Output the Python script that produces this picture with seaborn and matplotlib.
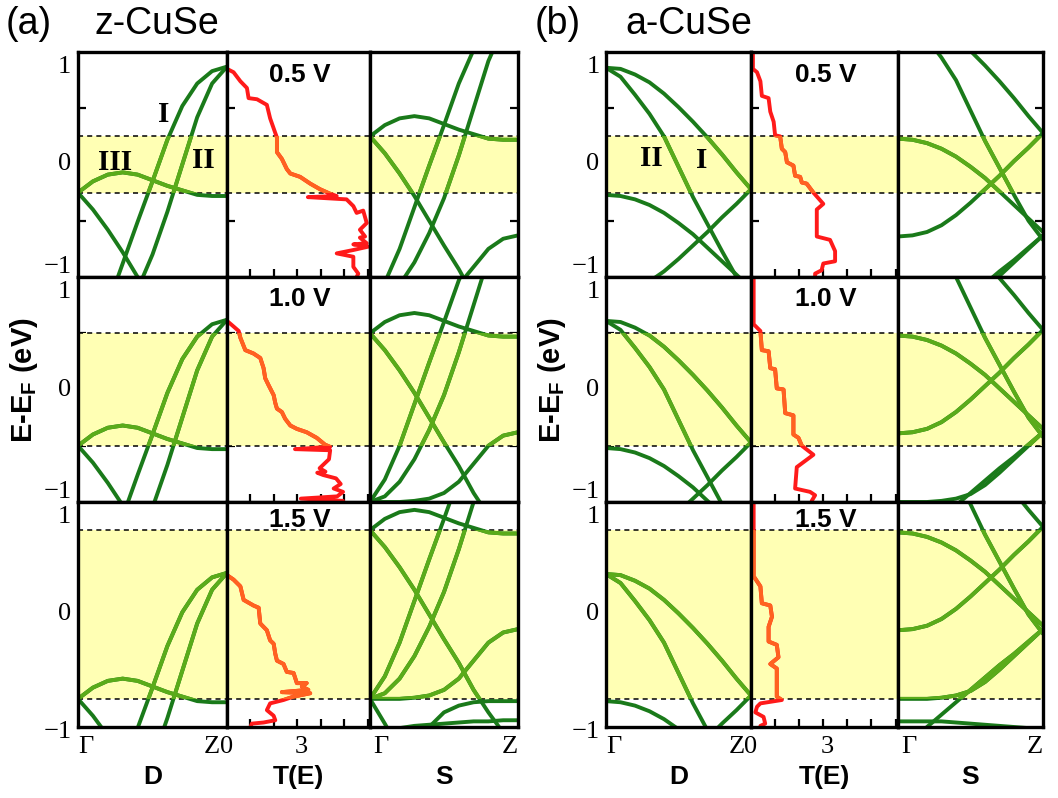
import matplotlib
matplotlib.use("Agg")
import matplotlib.pyplot as plt
import seaborn as sns
import pandas as pd
from matplotlib.patches import Rectangle

# ---------------- data ----------------
K_POINTS = [0.0, 0.1, 0.2, 0.3, 0.4, 0.5, 0.6, 0.7, 0.8, 0.9, 1.0]
BIAS = [0.5, 1.0, 1.5]
BIAS_LABELS = ["0.5 V", "1.0 V", "1.5 V"]

# z-CuSe bands (energy at zero bias); drain = E - V/2, source = E + V/2
zB1 = [0.00, 0.10, 0.16, 0.18, 0.16, 0.11, 0.06, 0.02, -0.02, -0.03, -0.03]
zB2 = [0.00, -0.15, -0.33, -0.53, -0.75, -0.97, -1.18, -1.42, -1.62, -1.80, -1.90]
zB3 = [-1.50, -1.30, -1.00, -0.63, -0.26, 0.10, 0.47, 0.77, 0.97, 1.08, 1.12]
zB4 = [-1.50, -1.45, -1.32, -1.12, -0.86, -0.55, -0.17, 0.25, 0.67, 0.97, 1.12]
zB5 = [-1.50, -1.50, -1.50, -1.49, -1.47, -1.42, -1.32, -1.16, -1.00, -0.91, -0.88]
zB6 = [-1.50, -1.72, -1.95, -2.18, -2.40, -2.60, -2.80, -3.00, -3.20, -3.40, -3.60]
zB7 = [-2.60, -2.40, -2.20, -2.00, -1.75, -1.62, -1.56, -1.53, -1.52, -1.52, -1.52]
zB8 = [-1.85, -1.80, -1.76, -1.74, -1.73, -1.72, -1.71, -1.70, -1.70, -1.69, -1.69]

# a-CuSe bands
aB1 = [1.11, 1.10, 1.05, 0.98, 0.88, 0.76, 0.63, 0.49, 0.34, 0.18, 0.03]
aB2 = [1.11, 1.03, 0.87, 0.70, 0.50, 0.23, -0.04, -0.28, -0.52, -0.75, -0.92]
aB3 = [-0.02, -0.03, -0.06, -0.11, -0.18, -0.27, -0.37, -0.49, -0.61, -0.73, -0.85]
aB4 = [-0.89, -0.88, -0.85, -0.79, -0.70, -0.59, -0.47, -0.35, -0.22, -0.10, 0.03]
aB5 = [-1.50, -1.50, -1.50, -1.49, -1.47, -1.43, -1.35, -1.24, -1.12, -1.00, -0.88]
aB6 = [-2.02, -1.88, -1.75, -1.64, -1.53, -1.42, -1.31, -1.20, -1.10, -0.99, -0.88]
aB7 = [-1.70, -1.70, -1.70, -1.70, -1.71, -1.72, -1.73, -1.74, -1.75, -1.76, -1.76]

# transmission T(E) curves
zT05_T = [0, 0, 0.28, 0.57, 0.85, 0.92, 1.28, 1.7, 1.84, 2.06, 2.13, 2.13, 2.34, 2.55, 2.7, 3.12,
          3.55, 3.97, 4.4, 4.68, 3.45, 5.1, 5.39, 5.53, 5.81, 5.96, 5.67, 5.89, 5.67, 5.96, 5.39,
          6.03, 5.39, 4.68, 5.39, 5.39, 5.6, 5.53]
zT05_E = [1.0, 0.85, 0.82, 0.74, 0.68, 0.59, 0.58, 0.53, 0.41, 0.28, 0.24, 0.11, 0.05, -0.04, -0.08,
          -0.11, -0.17, -0.22, -0.26, -0.28, -0.29, -0.31, -0.37, -0.43, -0.41, -0.52, -0.58, -0.64,
          -0.65, -0.70, -0.71, -0.73, -0.76, -0.79, -0.82, -0.91, -0.97, -1.0]
zT10_T = [0, 0, 0.28, 0.5, 0.57, 0.78, 1.13, 1.42, 1.56, 1.63, 1.77, 1.99, 2.06, 2.13, 2.34, 2.48,
          2.7, 2.98, 3.4, 3.83, 4.18, 4.4, 2.9, 4.4, 4.35, 3.95, 4.2, 3.85, 4.1, 4.65, 4.85, 4.55,
          4.95, 4.7, 3.15, 4.95, 4.8]
zT10_E = [1.0, 0.61, 0.56, 0.52, 0.46, 0.35, 0.32, 0.28, 0.19, 0.10, 0.04, -0.05, -0.12, -0.17,
          -0.20, -0.26, -0.32, -0.35, -0.38, -0.43, -0.49, -0.51, -0.53, -0.54, -0.62, -0.70, -0.73,
          -0.74, -0.76, -0.79, -0.84, -0.88, -0.91, -0.95, -0.97, -0.99, -1.0]
zT15_T = [0, 0, 0.28, 0.57, 0.71, 1.13, 1.35, 1.42, 1.7, 1.84, 1.99, 2.06, 2.13, 2.41, 2.55, 2.84,
          2.98, 3.4, 3.19, 3.47, 2.34, 3.55, 2.84, 2.55, 2.41, 1.84, 1.7, 1.99, 2.06, 1.56, 1.06, 1.0]
zT15_E = [1.0, 0.35, 0.31, 0.25, 0.13, 0.08, 0.06, -0.08, -0.14, -0.23, -0.26, -0.35, -0.41, -0.44,
          -0.51, -0.52, -0.61, -0.61, -0.64, -0.67, -0.69, -0.70, -0.73, -0.75, -0.76, -0.79, -0.85,
          -0.90, -0.94, -0.96, -0.97, -1.0]
aT05_T = [0.08, 0.08, 0.25, 0.39, 0.45, 0.73, 0.8, 0.94, 1.0, 1.21, 1.28, 1.42, 1.49, 1.76, 1.83,
          2.04, 2.11, 2.31, 2.59, 3.0, 2.73, 2.73, 3.28, 3.49, 3.49, 3.0, 2.93, 2.66, 2.66]
aT05_E = [1.0, 0.85, 0.82, 0.74, 0.61, 0.59, 0.47, 0.38, 0.26, 0.25, 0.14, 0.11, 0.02, -0.01, -0.10,
          -0.11, -0.16, -0.17, -0.25, -0.35, -0.40, -0.64, -0.67, -0.77, -0.86, -0.88, -0.94, -0.97, -1.0]
aT10_T = [0.11, 0.11, 0.39, 0.45, 0.73, 0.8, 1.0, 1.07, 1.35, 1.42, 1.76, 1.76, 1.97, 2.11, 2.59,
          1.9, 1.83, 2.45, 2.66, 2.52]
aT10_E = [1.0, 0.58, 0.52, 0.35, 0.34, 0.19, 0.18, 0.01, 0.0, -0.21, -0.23, -0.40, -0.43, -0.50,
          -0.58, -0.69, -0.88, -0.91, -0.94, -0.99]
aT15_T = [0.11, 0.11, 0.39, 0.45, 0.8, 0.87, 0.73, 0.73, 1.07, 1.14, 0.8, 1.07, 1.07, 1.28, 0.39,
          0.25, 0.18, 0.52, 0.59, 0.39]
aT15_E = [1.0, 0.34, 0.25, 0.10, 0.08, -0.02, -0.11, -0.24, -0.27, -0.38, -0.44, -0.48, -0.73,
          -0.76, -0.79, -0.82, -0.87, -0.91, -0.97, -0.99]

# ---------------- style ----------------
sns.set_theme(style="white")
plt.rcParams["font.family"] = ["Liberation Sans", "DejaVu Sans"]
plt.rcParams["mathtext.fontset"] = "custom"
plt.rcParams["mathtext.bf"] = "Liberation Sans:bold"
plt.rcParams["mathtext.rm"] = "Liberation Sans"
plt.rcParams["text.color"] = "black"

SERIF = "Liberation Serif"
DARK_G = "#1a7a1a"
LIGHT_G = "#5aab1a"
RED = "#ff1a1a"
ORANGE = "#ff6220"
YELLOW = "#ffffb4"
LW = 2.8

W, H = 1058, 798
fig = plt.figure(figsize=(W / 100, H / 100), dpi=100)
fig.patch.set_facecolor("white")

COLS = {"a": [78, 227, 370, 518], "b": [606, 751, 898, 1043]}
ROWS = [52, 277, 502, 727]


def add_ax(x0, x1, y0, y1):
    ax = fig.add_axes([x0 / W, 1 - y1 / H, (x1 - x0) / W, (y1 - y0) / H])
    ax.set_facecolor("white")
    for s in ax.spines.values():
        s.set_linewidth(2.4)
        s.set_color("black")
        s.set_zorder(5)
    return ax


def window(ax, V):
    ax.axhspan(-V / 2, V / 2, color=YELLOW, lw=0, zorder=0.8)
    for y in (-V / 2, V / 2):
        ax.axhline(y, color="black", lw=1.1, ls=(0, (3.3, 2.7)), zorder=2.5)


def draw_bands(ax, bands, shift, V):
    rows = []
    for i, b in enumerate(bands):
        for k, e in zip(K_POINTS, b):
            rows.append({"band": i, "k": k, "E": e + shift})
    df = pd.DataFrame(rows)
    sns.lineplot(data=df, x="k", y="E", units="band", estimator=None, color=DARK_G,
                 linewidth=LW, ax=ax, legend=False)
    n1 = len(ax.lines)
    sns.lineplot(data=df, x="k", y="E", units="band", estimator=None, color=LIGHT_G,
                 linewidth=LW, ax=ax, legend=False)
    rect = Rectangle((0, -V / 2), 1, V, transform=ax.transData)
    for ln in ax.lines[n1:]:
        ln.set_clip_path(rect)
        ln.set_zorder(3)
    for ln in ax.lines[:n1]:
        ln.set_zorder(2.8)
    ax.set_xlim(0, 1)
    ax.set_ylim(-1, 1)
    ax.set_xlabel("")
    ax.set_ylabel("")


def draw_T(ax, T, E, V):
    df = pd.DataFrame({"T": T, "E": E})
    n0 = len(ax.lines)
    sns.lineplot(data=df, x="T", y="E", sort=False, estimator=None, color=RED,
                 linewidth=LW, ax=ax, legend=False)
    n1 = len(ax.lines)
    sns.lineplot(data=df, x="T", y="E", sort=False, estimator=None, color=ORANGE,
                 linewidth=LW, ax=ax, legend=False)
    rect = Rectangle((0, -V / 2), 6.1, V, transform=ax.transData)
    for ln in ax.lines[n1:]:
        ln.set_clip_path(rect)
        ln.set_zorder(3)
    for ln in ax.lines[n0:n1]:
        ln.set_zorder(2.8)
    ax.set_xlim(0, 6.1)
    ax.set_ylim(-1, 1)
    ax.set_xlabel("")
    ax.set_ylabel("")


PANELS = {
    "a": dict(bands=[zB1, zB2, zB3, zB4, zB5, zB6, zB7, zB8],
              T=[(zT05_T, zT05_E), (zT10_T, zT10_E), (zT15_T, zT15_E)],
              tag="(a)", name="z-CuSe",
              marks=[("I", 0.575, 0.44), ("III", 0.25, 0.02), ("II", 0.84, 0.04)]),
    "b": dict(bands=[aB1, aB2, aB3, aB4, aB5, aB6, aB7],
              T=[(aT05_T, aT05_E), (aT10_T, aT10_E), (aT15_T, aT15_E)],
              tag="(b)", name="a-CuSe",
              marks=[("II", 0.31, 0.05), ("I", 0.66, 0.04)]),
}

tick_kw = dict(direction="in", length=6, width=1.6, color="black")

for key, P in PANELS.items():
    cx = COLS[key]
    for r, V in enumerate(BIAS):
        y0, y1 = ROWS[r], ROWS[r + 1]
        axD = add_ax(cx[0], cx[1], y0, y1)
        axT = add_ax(cx[1], cx[2], y0, y1)
        axS = add_ax(cx[2], cx[3], y0, y1)

        for ax in (axD, axT, axS):
            window(ax, V)
        draw_bands(axD, P["bands"], -V / 2, V)
        draw_bands(axS, P["bands"], +V / 2, V)
        draw_T(axT, P["T"][r][0], P["T"][r][1], V)

        # ticks
        axD.set_xticks([])
        axD.set_yticks([-0.5, 0, 0.5])
        axD.tick_params(axis="y", left=True, right=False, labelleft=False, **tick_kw)
        axT.set_yticks([-0.5, 0, 0.5])
        axT.set_xticks([1, 2, 3, 4, 5, 6])
        axT.tick_params(axis="y", left=True, right=False, labelleft=False, **tick_kw)
        axT.tick_params(axis="x", bottom=True, top=False, labelbottom=False, **tick_kw)
        axS.set_xticks([])
        axS.set_yticks([-0.5, 0, 0.5])
        axS.tick_params(axis="y", left=False, right=True, labelleft=False,
                        labelright=False, **tick_kw)

        # y tick labels
        lab_kw = dict(transform=axD.transAxes, ha="right", va="center",
                      fontsize=19, family=SERIF, color="black")
        axD.text(-0.045, 0.933, "1", **lab_kw)
        axD.text(-0.045, 0.5, "0", **lab_kw)
        axD.text(-0.045, 0.044 if r < 2 else -0.022, "\u22121", **lab_kw)

        # bias label (drawn beneath the window fill)
        axT.text(0.51, 0.9 if r < 2 else 0.92, BIAS_LABELS[r], transform=axT.transAxes,
                 ha="center", va="center", fontsize=19, fontweight="bold", zorder=0.5,
                 color="black")

        if r == 0:
            for txt, kx, ey in P["marks"]:
                axD.text(kx, ey, txt, ha="center", va="center", fontsize=21,
                         fontweight="bold", family=SERIF, zorder=6, color="black")

        if r == 2:
            xl = dict(va="center", fontsize=19, family=SERIF, color="black")
            axD.text(0.0, -0.089, "\u0393", transform=axD.transAxes, ha="left", **xl)
            axD.text(0.955, -0.089, "Z", transform=axD.transAxes, ha="right", **xl)
            axT.text(0.0, -0.089, "0", transform=axT.transAxes, ha="center", **xl)
            axT.text(3.15, -0.089, "3", transform=axT.get_xaxis_transform(), ha="center", **xl)
            axS.text(0.02, -0.089, "\u0393", transform=axS.transAxes, ha="left", **xl)
            axS.text(1.0, -0.089, "Z", transform=axS.transAxes, ha="right", **xl)
            bl = dict(va="center", ha="center", fontsize=19, fontweight="bold", color="black")
            axD.text(0.5, -0.222, "D", transform=axD.transAxes, **bl)
            axT.text(0.5, -0.222, "T(E)", transform=axT.transAxes, **bl)
            axS.text(0.5, -0.222, "S", transform=axS.transAxes, **bl)

    # panel tags and y label
    tag_x = 6 if key == "a" else 535
    name_x = 95 if key == "a" else 625
    fig.text(tag_x / W, 1 - 24 / H, P["tag"], ha="left", va="center", fontsize=27, color="black")
    fig.text(name_x / W, 1 - 24 / H, P["name"], ha="left", va="center", fontsize=27, color="black")
    ylab_x = 24 if key == "a" else 552
    fig.text(ylab_x / W, 1 - 380 / H, r"E-E$_{\mathbf{F}}$ (eV)", rotation=90,
             ha="center", va="center", fontsize=21, fontweight="bold", color="black")

fig.savefig("out.png", dpi=100, facecolor="white")
